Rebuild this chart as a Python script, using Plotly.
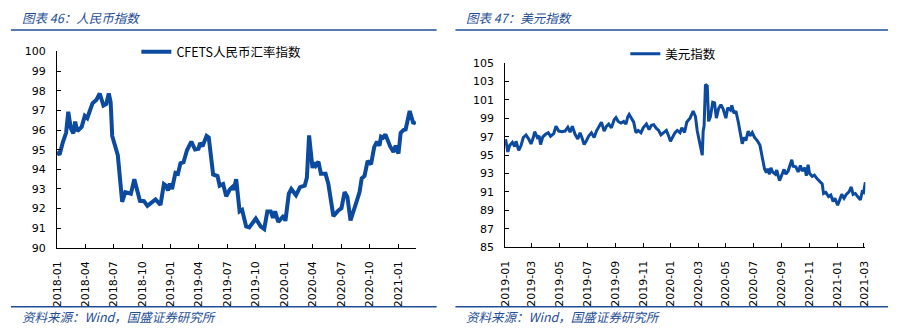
import plotly.graph_objects as go

W, H = 899, 335
BLUE = "#0B4A9E"
HEAD = "#1F4E96"


def fx(p):
    return p / W


def fy(p):
    return 1 - p / H


cfets_dates = [
    "2018-01-01", "2018-01-09", "2018-01-20", "2018-01-30", "2018-02-06", "2018-02-14",
    "2018-02-22", "2018-02-28", "2018-03-07", "2018-03-21", "2018-03-31", "2018-04-08",
    "2018-04-16", "2018-04-25", "2018-05-07", "2018-05-18", "2018-05-30", "2018-06-08",
    "2018-06-16", "2018-06-22", "2018-06-27", "2018-07-15", "2018-07-29", "2018-08-08",
    "2018-08-26", "2018-09-06", "2018-09-24", "2018-10-07", "2018-10-18", "2018-10-29",
    "2018-11-13", "2018-11-29", "2018-12-10", "2018-12-17", "2018-12-23", "2018-12-29",
    "2019-01-05", "2019-01-16", "2019-01-24", "2019-02-01", "2019-02-11", "2019-02-22",
    "2019-03-08", "2019-03-20", "2019-03-31", "2019-04-05", "2019-04-13", "2019-04-26",
    "2019-05-03", "2019-05-17", "2019-05-31", "2019-06-07", "2019-06-18", "2019-06-28",
    "2019-07-09", "2019-07-17", "2019-07-22", "2019-07-30", "2019-08-10", "2019-08-18",
    "2019-08-31", "2019-09-10", "2019-10-01", "2019-10-17", "2019-10-28", "2019-11-07",
    "2019-11-18", "2019-11-25", "2019-12-02", "2019-12-12", "2019-12-23", "2019-12-30",
    "2020-01-04", "2020-01-15", "2020-01-23", "2020-02-07", "2020-02-20", "2020-03-06",
    "2020-03-13", "2020-03-20", "2020-03-31", "2020-04-06", "2020-04-11", "2020-04-19",
    "2020-04-27", "2020-05-12", "2020-05-21", "2020-06-06", "2020-06-22", "2020-07-02",
    "2020-07-12", "2020-07-21", "2020-07-31", "2020-08-11", "2020-08-21", "2020-08-29",
    "2020-09-05", "2020-09-14", "2020-09-24", "2020-10-05", "2020-10-15", "2020-10-24",
    "2020-11-01", "2020-11-06", "2020-11-13", "2020-11-20", "2020-12-05", "2020-12-16",
    "2020-12-23", "2021-01-01", "2021-01-08", "2021-01-17", "2021-01-24", "2021-02-06",
    "2021-02-18", "2021-02-25",
]
cfets_values = [
    94.9, 94.75, 95.4, 95.86, 96.93, 96.1,
    95.83, 96.43, 95.95, 96.16, 96.72, 96.6,
    96.97, 97.37, 97.53, 97.86, 97.25, 97.33,
    97.86, 97.42, 95.7, 94.72, 92.35, 92.84,
    92.76, 93.5, 92.4, 92.38, 92.14, 92.3,
    92.47, 92.19, 93.25, 93.17, 92.92, 93.28,
    93.0, 93.82, 93.77, 94.31, 94.36, 94.97,
    95.41, 95.01, 95.05, 95.34, 95.18, 95.7,
    95.62, 93.74, 93.66, 93.17, 93.25, 92.63,
    92.96, 93.09, 92.96, 93.5, 91.86, 91.94,
    91.09, 91.04, 91.49, 91.09, 90.96, 91.86,
    91.86, 91.53, 91.86, 91.32, 91.53, 91.65,
    91.37, 92.76, 93.0, 92.68, 93.09, 93.17,
    93.58, 95.73, 94.07, 94.36, 94.2, 94.39,
    93.77, 93.77, 93.25, 91.62, 91.91, 92.02,
    92.84, 92.6, 91.4, 92.02, 92.43, 92.84,
    93.54, 93.66, 94.43, 94.26, 95.13, 95.41,
    95.21, 95.67, 95.62, 95.78, 95.18, 94.88,
    95.21, 94.8, 95.86, 96.0, 96.03, 96.97,
    96.32, 96.44,
]

usd_dates = [
    "2019-01-02", "2019-01-07", "2019-01-11", "2019-01-17", "2019-01-22", "2019-01-25",
    "2019-01-31", "2019-02-05", "2019-02-10", "2019-02-16", "2019-02-22", "2019-02-27",
    "2019-03-04", "2019-03-07", "2019-03-13", "2019-03-17", "2019-03-20", "2019-03-25",
    "2019-03-31", "2019-04-06", "2019-04-11", "2019-04-18", "2019-04-23", "2019-04-29",
    "2019-05-06", "2019-05-13", "2019-05-19", "2019-05-24", "2019-05-29", "2019-06-04",
    "2019-06-10", "2019-06-15", "2019-06-19", "2019-06-24", "2019-06-29", "2019-07-04",
    "2019-07-10", "2019-07-16", "2019-07-21", "2019-07-26", "2019-08-01", "2019-08-07",
    "2019-08-12", "2019-08-17", "2019-08-23", "2019-08-29", "2019-09-02", "2019-09-07",
    "2019-09-13", "2019-09-19", "2019-09-24", "2019-09-28", "2019-10-01", "2019-10-06",
    "2019-10-11", "2019-10-16", "2019-10-21", "2019-10-27", "2019-11-01", "2019-11-08",
    "2019-11-14", "2019-11-19", "2019-11-24", "2019-11-30", "2019-12-05", "2019-12-10",
    "2019-12-16", "2019-12-22", "2019-12-27", "2019-12-31", "2020-01-05", "2020-01-10",
    "2020-01-15", "2020-01-21", "2020-01-25", "2020-01-31", "2020-02-05", "2020-02-12",
    "2020-02-19", "2020-02-24", "2020-02-28", "2020-03-04", "2020-03-10", "2020-03-12",
    "2020-03-14", "2020-03-17", "2020-03-21", "2020-03-24", "2020-03-28", "2020-04-02",
    "2020-04-06", "2020-04-10", "2020-04-15", "2020-04-20", "2020-04-25", "2020-05-01",
    "2020-05-05", "2020-05-11", "2020-05-14", "2020-05-19", "2020-05-23", "2020-05-28",
    "2020-06-01", "2020-06-06", "2020-06-10", "2020-06-14", "2020-06-19", "2020-06-23",
    "2020-06-28", "2020-07-03", "2020-07-09", "2020-07-15", "2020-07-20", "2020-07-25",
    "2020-07-29", "2020-08-01", "2020-08-05", "2020-08-08", "2020-08-12", "2020-08-18",
    "2020-08-21", "2020-08-27", "2020-09-01", "2020-09-06", "2020-09-10", "2020-09-15",
    "2020-09-23", "2020-09-26", "2020-10-02", "2020-10-07", "2020-10-12", "2020-10-16",
    "2020-10-22", "2020-10-25", "2020-10-29", "2020-11-01", "2020-11-07", "2020-11-12",
    "2020-11-17", "2020-11-23", "2020-11-29", "2020-12-02", "2020-12-07", "2020-12-13",
    "2020-12-18", "2020-12-23", "2020-12-27", "2021-01-02", "2021-01-07", "2021-01-11",
    "2021-01-16", "2021-01-21", "2021-01-27", "2021-02-01", "2021-02-05", "2021-02-10",
    "2021-02-15", "2021-02-21", "2021-02-25", "2021-02-28", "2021-03-04",
]
usd_values = [
    96.74, 95.35, 96.04, 96.39, 95.94, 96.5,
    95.52, 96.04, 96.91, 97.19, 96.74, 96.22,
    96.91, 97.54, 96.91, 97.08, 96.15, 96.98,
    97.26, 97.43, 97.05, 97.33, 98.13, 97.61,
    97.54, 97.61, 98.03, 97.5, 98.13, 97.26,
    96.74, 97.43, 96.91, 96.15, 96.57, 97.08,
    97.43, 96.91, 97.61, 98.03, 98.58, 97.61,
    98.13, 98.37, 97.96, 98.83, 99.07, 98.65,
    98.48, 98.65, 98.37, 99.17, 99.42, 99.0,
    98.58, 97.43, 97.68, 97.43, 97.96, 98.37,
    97.78, 98.23, 98.3, 97.89, 97.68, 97.19,
    97.43, 97.68, 97.08, 96.5, 96.98, 97.43,
    97.68, 97.43, 97.97, 97.45, 98.6, 99.01,
    99.78, 99.19, 97.62, 96.41, 95.0, 97.62,
    98.15, 102.67, 102.5, 98.67, 99.19, 100.75,
    100.68, 99.01, 100.06, 100.48, 99.99, 99.01,
    100.13, 99.88, 100.41, 99.54, 99.78, 98.67,
    97.62, 96.23, 96.93, 96.58, 97.62, 97.1,
    97.45, 96.93, 96.58, 96.06, 94.77, 93.52,
    93.1, 93.52, 92.93, 93.63, 93.17, 92.93,
    93.38, 92.23, 92.83, 93.45, 92.93, 93.28,
    94.49, 93.8, 93.73, 93.17, 93.87, 93.28,
    93.63, 92.76, 93.97, 93.03, 92.69, 92.83,
    92.48, 92.23, 91.88, 90.84, 90.95, 90.5,
    90.67, 89.97, 90.32, 89.56, 90.15, 90.74,
    90.32, 90.74, 91.02, 91.54, 90.74, 90.84,
    90.5, 90.15, 91.02, 90.95, 92.06,
]

titles = ["图表 46：人民币指数", "图表 47：美元指数"]
source_text = "资料来源：Wind，国盛证券研究所"
series_names = ["CFETS人民币汇率指数", "美元指数"]

fig = go.Figure()
fig.add_trace(go.Scatter(
    x=cfets_dates, y=cfets_values, mode="lines", name=series_names[0],
    line=dict(color=BLUE, width=4), xaxis="x", yaxis="y", legend="legend",
))
fig.add_trace(go.Scatter(
    x=usd_dates, y=usd_values, mode="lines", name=series_names[1],
    line=dict(color=BLUE, width=3), xaxis="x2", yaxis="y2", legend="legend2",
))

tickfont = dict(family="DejaVu Sans", size=11, color="#000000")
common = dict(showline=True, linecolor="#000000", linewidth=1, ticks="inside",
              ticklen=4, tickcolor="#000000", showgrid=False, zeroline=False,
              tickfont=tickfont)

fig.update_layout(
    width=W, height=H, margin=dict(l=0, r=0, t=0, b=0),
    paper_bgcolor="white", plot_bgcolor="white", showlegend=True,
    xaxis=dict(domain=[fx(51.7), fx(415)], anchor="y", type="date",
               range=["2018-01-01", "2021-02-26"], tick0="2018-01-01", dtick="M3",
               tickformat="%Y-%m", tickangle=-90, ticklabelstandoff=8, **common),
    yaxis=dict(domain=[fy(251.7), fy(47.3)], anchor="x", range=[90, 100], dtick=1,
               ticklabelstandoff=8, **common),
    xaxis2=dict(domain=[fx(505.3), fx(870)], anchor="y2", type="date",
                range=["2019-01-01", "2021-03-04"], tick0="2019-01-01", dtick="M2",
                tickformat="%Y-%m", tickangle=-90, ticklabelstandoff=8, **common),
    yaxis2=dict(domain=[fy(251), fy(59.3)], anchor="x2", range=[85, 105], dtick=2,
                tick0=85, ticklabelstandoff=8, **common),
    legend=dict(x=fx(132), y=fy(48), xanchor="left", yanchor="middle",
                bgcolor="rgba(0,0,0,0)", borderwidth=0,
                font=dict(family="Noto Sans CJK SC", size=12.5, color="#000000")),
    legend2=dict(x=fx(627), y=fy(50), xanchor="left", yanchor="middle",
                 bgcolor="rgba(0,0,0,0)", borderwidth=0,
                 font=dict(family="Noto Sans CJK SC", size=12.5, color="#000000")),
)

head_font = dict(family="Noto Sans CJK SC", size=12.5, color=HEAD)
src_font = dict(family="Noto Sans CJK SC", size=12.5, color=HEAD)
for x0, x1, title in [(5, 436, titles[0]), (455, 893, titles[1])]:
    fig.add_shape(type="line", xref="paper", yref="paper", x0=fx(x0), x1=fx(x1),
                  y0=fy(25), y1=fy(25), line=dict(color=HEAD, width=1.5))
    fig.add_shape(type="line", xref="paper", yref="paper", x0=fx(x0), x1=fx(x1),
                  y0=fy(313), y1=fy(313), line=dict(color=HEAD, width=1.5))
    fig.add_annotation(xref="paper", yref="paper", x=fx(x0 + 9), y=fy(12),
                       xanchor="left", yanchor="middle", showarrow=False,
                       text="<i>" + title + "</i>", font=head_font)
    fig.add_annotation(xref="paper", yref="paper", x=fx(x0 + 9), y=fy(323),
                       xanchor="left", yanchor="middle", showarrow=False,
                       text="<i>" + source_text + "</i>", font=src_font)

fig.write_html("out.html")
